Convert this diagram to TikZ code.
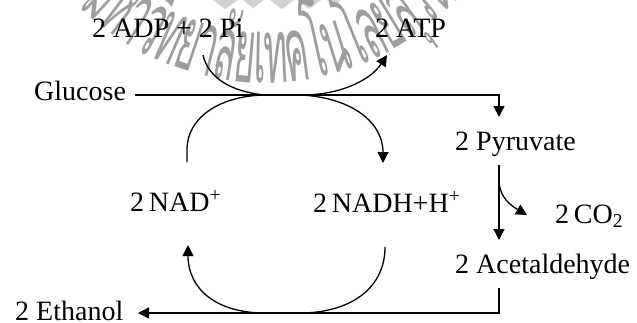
\documentclass[tikz,border=0pt]{standalone}
\usepackage{fontspec}
\setmainfont{Liberation Serif}
\newfontfamily\wmfont[Script=Thai,FakeStretch=0.40]{Loma}
\usetikzlibrary{arrows.meta,decorations.text}
\definecolor{wmgray}{gray}{0.62}
\definecolor{logogray}{gray}{0.82}
\begin{document}
\begin{tikzpicture}[x=1pt,y=-1pt,
  lbl/.style={inner sep=0pt, anchor=base west, font=\fontsize{28}{30}\selectfont},
  conn/.style={line width=1.3pt, line join=miter},
  arr/.style={conn,-{Triangle[length=11pt,width=11pt]}}]
\useasboundingbox (0,0) rectangle (637,322);
\clip (0,0) rectangle (637,322);
% watermark (logo edge and arced Thai text)
\fill[logogray] (213,0) -- (225,9) -- (238,0) -- cycle;
\fill[logogray] (243,0) -- (253,8) -- (264,0) -- cycle;
\fill[logogray] (270,0) -- (282,9) -- (294,0) -- cycle;
\fill[logogray] (297,0) -- (309,9) -- (321,0) -- cycle;
\fill[logogray] (327,0) -- (334,6) -- (341,0) -- cycle;
\begin{scope}[x=1pt,y=1pt]
\path[decorate, decoration={text along path, text align=left, raise=2pt,
  text={|\wmfont\fontsize{90}{90}\selectfont\color{wmgray}|{ม}{ห}{า}{วิ}{ท}{ย}{า}{ลั}{ย}{เ}{ท}{ค}{โ}{น}{โ}{ล}{ยี}{สุ}{ร}{น}{า}{รี}}}]
  (265,180) ++(225:265) arc[start angle=225, end angle=340, radius=265];
\end{scope}
% labels
\node[lbl] (adp) at (92,37) {2 ADP + 2 Pi};
\node[lbl] (atp) at (375,37) {2 ATP};
\node[lbl] (glc) at (34,100) {Glucose};
\node[lbl] (pyr) at (455,150) {2 Pyruvate};
\node[lbl] (nad) at (130,211) {2\,NAD\textsuperscript{+}};
\node[lbl] (nadh) at (313,212) {2\,NADH+H\textsuperscript{+}};
\node[lbl] (co2) at (555,223) {2\,CO\textsubscript{2}};
\node[lbl] (acet) at (455,273) {2 Acetaldehyde};
\node[lbl] (eth) at (15,320) {2 Ethanol};
% junction points
\coordinate (gl) at (135,95);
\coordinate (gc) at (499,95);
\coordinate (pyrin) at (499,117);
\coordinate (pyrout) at (499,165);
\coordinate (acin) at (499,240);
\coordinate (cob) at (499,183);
\coordinate (cotip) at (527,215);
\coordinate (acout) at (499,288);
\coordinate (ec) at (499,313);
\coordinate (ethin) at (138,313);
\coordinate (adpo) at (203,55);
\coordinate (atpin) at (387,55);
\coordinate (nadtop) at (187,162);
\coordinate (nadbot) at (188,245);
\coordinate (nadhtop) at (383,163);
\coordinate (nadhbot) at (385,247);
% main pathway
\draw[arr] (gl) -- (gc) -- (pyrin);
\draw[arr] (pyrout) -- (acin);
\draw[arr] (cob) .. controls (501,198) and (510,205) .. (cotip);
\draw[arr] (acout) -- (ec) -- (ethin);
% ADP / ATP
\draw[conn] (adpo) .. controls (208,78) and (232,92) .. (265,95);
\draw[arr] (305,95) .. controls (345,94) and (372,78) .. (atpin);
% NAD cycle
\draw[conn] (nadtop) -- (187,150) .. controls (187,118) and (218,97) .. (262,95);
\draw[arr] (300,95) .. controls (348,97) and (383,120) .. (nadhtop);
\draw[conn] (nadhbot) .. controls (385,290) and (348,313) .. (300,313);
\draw[arr] (265,313) .. controls (215,313) and (188,288) .. (nadbot);
\end{tikzpicture}
\end{document}
